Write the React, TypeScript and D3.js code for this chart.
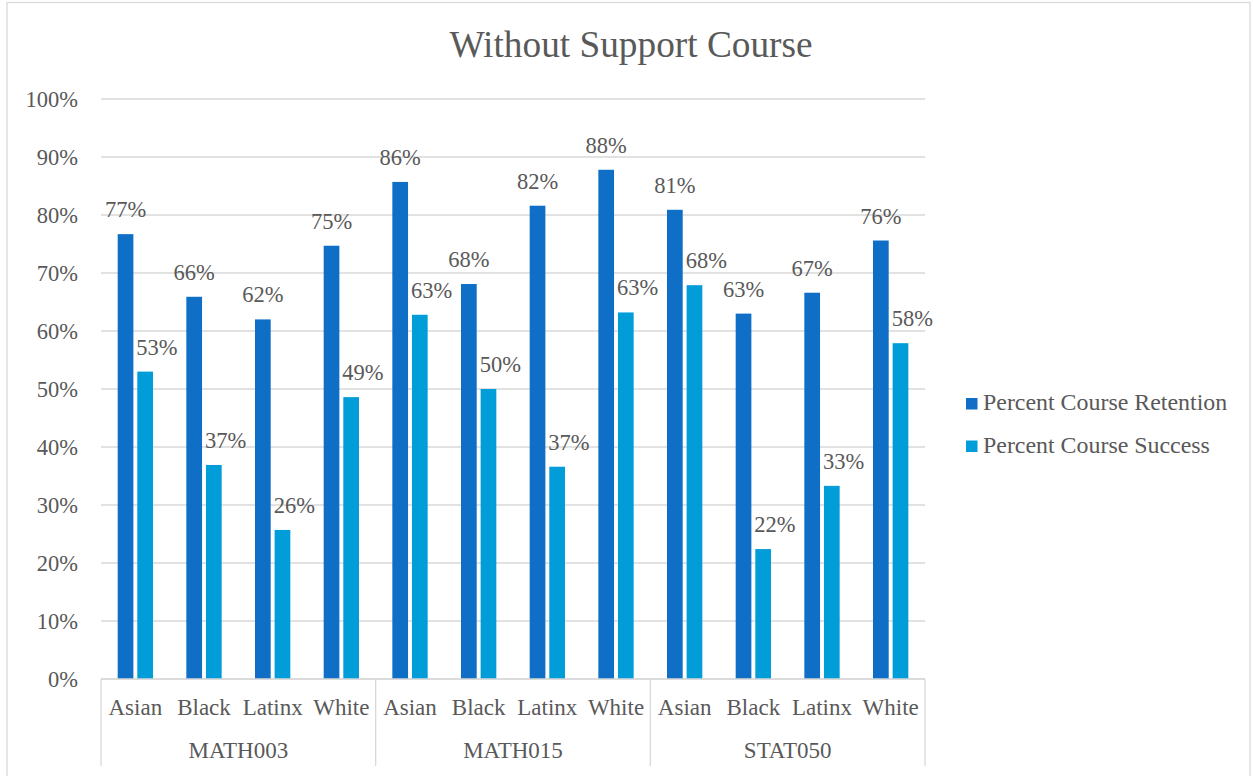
import React from "react";
import * as d3 from "d3";

const groups = ["MATH003", "MATH015", "STAT050"];
const ethnicities = ["Asian", "Black", "Latinx", "White"];
const seriesNames = ["Percent Course Retention", "Percent Course Success"];
const retention = [76.7, 65.9, 62.0, 74.7, 85.7, 68.1, 81.6, 87.8, 80.9, 63.0, 66.6, 75.6];
const success = [53.0, 36.9, 25.7, 48.6, 62.8, 50.0, 36.6, 63.2, 67.9, 22.4, 33.3, 57.9];
const yTicks = [0, 10, 20, 30, 40, 50, 60, 70, 80, 90, 100];
const colors = ["#0F6FC6", "#009DD9"];

const W = 1253;
const H = 776;
const FONT = "'Liberation Serif', 'Times New Roman', serif";
const TEXT = "#595959";
const GRID = "#d9d9d9";

export default function App() {
  const left = 101, right = 925, top = 99, bottom = 679;
  const cats = groups.flatMap((g) => ethnicities.map((e) => `${g}|${e}`));
  const x = d3.scaleBand<string>().domain(cats).range([left, right]).padding(0);
  const y = d3.scaleLinear().domain([0, 100]).range([bottom, top]);
  const bw = x.bandwidth();
  const barW = bw * 0.2286;
  const gap = barW * 0.25;
  const groupW = 2 * barW + gap;
  const groupScale = d3.scaleBand<string>().domain(groups).range([left, right]);

  return (
    <svg width={W} height={H} style={{ position: "absolute", left: 0, top: 0, display: "block", background: "#fff", fontFamily: FONT }}>
      <rect x={7} y={2.5} width={1243} height={H + 10} fill="#fff" stroke={GRID} strokeWidth={1.3} />
      <text x={631} y={57} textAnchor="middle" fontSize={37.3} fill={TEXT}>Without Support Course</text>
      {yTicks.map((t) => (
        <g key={t}>
          <line x1={left} x2={right} y1={y(t)} y2={y(t)} stroke={GRID} strokeWidth={1.3} />
          <text x={78} y={y(t)} dy="0.35em" textAnchor="end" fontSize={22.5} fill={TEXT}>{t}%</text>
        </g>
      ))}
      {cats.map((c, i) => {
        const x0 = (x(c) as number) + (bw - groupW) / 2;
        const vals = [retention[i], success[i]];
        return (
          <g key={c}>
            {vals.map((v, s) => {
              const bx = x0 + s * (barW + gap);
              return (
                <g key={s}>
                  <rect x={bx} y={y(v)} width={barW} height={bottom - y(v)} fill={colors[s]} />
                  {s === 0 ? (
                    <text x={bx + barW / 2} y={y(v) - 17} textAnchor="middle" fontSize={22.5} fill={TEXT}>{Math.round(v)}%</text>
                  ) : (
                    <text x={bx - 1} y={y(v) - 17} textAnchor="start" fontSize={22.5} fill={TEXT}>{Math.round(v)}%</text>
                  )}
                </g>
              );
            })}
            <text x={(x(c) as number) + bw / 2} y={715} textAnchor="middle" fontSize={23} fill={TEXT}>{c.split("|")[1]}</text>
          </g>
        );
      })}
      <line x1={left} x2={right} y1={bottom} y2={bottom} stroke={GRID} strokeWidth={1.3} />
      {[...groups.map((g) => groupScale(g) as number), right].map((gx, i) => (
        <line key={i} x1={gx} x2={gx} y1={bottom} y2={766} stroke={GRID} strokeWidth={1.3} />
      ))}
      {groups.map((g) => (
        <text key={g} x={(groupScale(g) as number) + groupScale.bandwidth() / 2} y={758} textAnchor="middle" fontSize={23} fill={TEXT}>{g}</text>
      ))}
      {seriesNames.map((n, i) => (
        <g key={n}>
          <rect x={966} y={398 + i * 42.5} width={11.5} height={11.5} fill={colors[i]} />
          <text x={983} y={410 + i * 42.5} fontSize={23.9} fill={TEXT}>{n}</text>
        </g>
      ))}
    </svg>
  );
}
